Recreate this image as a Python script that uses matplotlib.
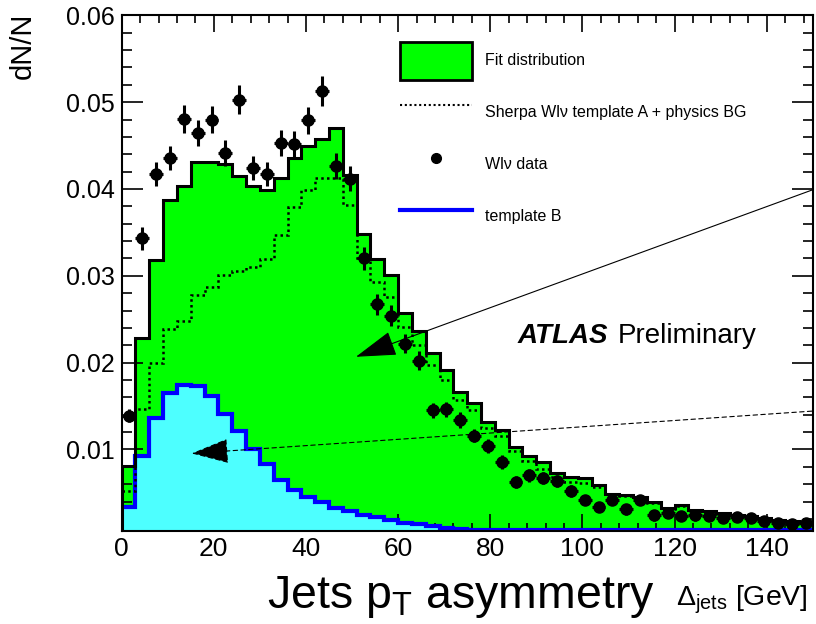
import numpy as np
import matplotlib
matplotlib.use("Agg")
import matplotlib.pyplot as plt
from matplotlib.lines import Line2D
from matplotlib.patches import Patch
from matplotlib.ticker import MultipleLocator, FormatStrFormatter

plt.rcParams['font.family'] = ['Liberation Sans', 'DejaVu Sans']
plt.rcParams['mathtext.fontset'] = 'custom'
plt.rcParams['mathtext.rm'] = 'Liberation Sans'
plt.rcParams['mathtext.it'] = 'Liberation Sans:italic'

# 50 bins of 3 GeV, 0..150
bin_edges = np.arange(0, 151, 3)
bin_centers = bin_edges[:-1] + 1.5

fit_dist = [0.0081, 0.0228, 0.0318, 0.0387, 0.0404, 0.0431, 0.0431, 0.0429, 0.0415, 0.0403,
            0.0399, 0.0413, 0.0436, 0.0449, 0.0458, 0.0470, 0.0416, 0.0348, 0.0319, 0.0301,
            0.0257, 0.0236, 0.0211, 0.0191, 0.0166, 0.0154, 0.0132, 0.0122, 0.0103, 0.0092,
            0.0085, 0.0073, 0.0068, 0.0067, 0.0059, 0.0049, 0.0047, 0.0045, 0.0039, 0.0032,
            0.0036, 0.0030, 0.0029, 0.0027, 0.0025, 0.0023, 0.0021, 0.0019, 0.0018, 0.0016]

template_a = [0.0052, 0.0146, 0.0199, 0.0239, 0.0248, 0.0278, 0.0287, 0.0301, 0.0305, 0.0310,
              0.0319, 0.0347, 0.0379, 0.0399, 0.0413, 0.0413, 0.0382, 0.0318, 0.0293, 0.0276,
              0.0241, 0.0220, 0.0197, 0.0180, 0.0157, 0.0145, 0.0125, 0.0115, 0.0098, 0.0087,
              0.0078, 0.0068, 0.0063, 0.0061, 0.0057, 0.0048, 0.0046, 0.0044, 0.0038, 0.0031,
              0.0035, 0.0029, 0.0028, 0.0026, 0.0024, 0.0022, 0.0020, 0.0018, 0.0017, 0.0015]

template_b = [0.0034, 0.0092, 0.0136, 0.0165, 0.0174, 0.0173, 0.0161, 0.0141, 0.0121, 0.0100,
              0.0083, 0.0065, 0.0053, 0.0045, 0.0039, 0.0033, 0.0029, 0.0025, 0.0022, 0.0019,
              0.0015, 0.0014, 0.0012, 0.0010, 0.0008, 0.0007, 0.0007, 0.0007, 0.0007, 0.0007,
              0.0007, 0.0007, 0.0007, 0.0007, 0.0007, 0.0007, 0.0007, 0.0007, 0.0007, 0.0007,
              0.0007, 0.0007, 0.0007, 0.0007, 0.0007, 0.0007, 0.0007, 0.0007, 0.0007, 0.0007]

wlv_data = [0.0139, 0.0343, 0.0417, 0.0436, 0.0481, 0.0465, 0.0480, 0.0441, 0.0503, 0.0424,
            0.0417, 0.0453, 0.0452, 0.0479, 0.0513, 0.0426, 0.0412, 0.0320, 0.0267, 0.0254,
            0.0222, 0.0202, 0.0145, 0.0146, 0.0134, 0.0116, 0.0104, 0.0085, 0.0062, 0.0070,
            0.0067, 0.0064, 0.0052, 0.0042, 0.0034, 0.0042, 0.0031, 0.0042, 0.0024, 0.0027,
            0.0023, 0.0024, 0.0023, 0.0021, 0.0022, 0.0021, 0.0017, 0.0015, 0.0014, 0.0015]

wlv_err = [0.0007, 0.0013, 0.0014, 0.0014, 0.0016, 0.0015, 0.0016, 0.0015, 0.0017, 0.0014,
           0.0014, 0.0015, 0.0015, 0.0016, 0.0017, 0.0015, 0.0014, 0.0013, 0.0012, 0.0012,
           0.0011, 0.0011, 0.0009, 0.0009, 0.0009, 0.0008, 0.0008, 0.0008, 0.0007, 0.0007,
           0.0007, 0.0007, 0.0007, 0.0006, 0.0006, 0.0006, 0.0006, 0.0006, 0.0006, 0.0006,
           0.0006, 0.0006, 0.0006, 0.0006, 0.0006, 0.0006, 0.0006, 0.0006, 0.0006, 0.0006]

GREEN = '#00ff00'
CYAN = '#4dffff'
BLUE = '#0000ff'

fig = plt.figure(figsize=(8.16, 6.24), dpi=100)
ax = fig.add_axes([0.1491, 0.1490, 0.8469, 0.8264])

ax.stairs(fit_dist, bin_edges, fill=True, color=GREEN, zorder=1)
ax.stairs(template_b, bin_edges, fill=True, color=CYAN, zorder=2)
ax.stairs(template_b, bin_edges, color=BLUE, lw=3, zorder=3, baseline=None)
ax.stairs(template_a, bin_edges, color='black', lw=1.8, ls=(0, (1, 1.3)), zorder=3, baseline=None)
ax.stairs(fit_dist, bin_edges, color='black', lw=2.2, zorder=4)
ax.errorbar(bin_centers, wlv_data, yerr=wlv_err, xerr=1.5, fmt='o', color='black',
            ms=8, elinewidth=2.2, capsize=0, zorder=5)

# arrows from the right edge
ax.annotate('', xy=(50.85, 0.02067), xytext=(149.8, 0.03987),
            arrowprops=dict(arrowstyle='-|>,head_length=2.6,head_width=0.8', color='black',
                            lw=0.8, mutation_scale=10, shrinkA=0, shrinkB=0),
            annotation_clip=False, zorder=6)
ax.annotate('', xy=(15.19, 0.00954), xytext=(149.8, 0.01441),
            arrowprops=dict(arrowstyle='-|>,head_length=2.4,head_width=0.8', color='black',
                            lw=0.8, ls=(0, (4, 3)), mutation_scale=10, shrinkA=0, shrinkB=0),
            annotation_clip=False, zorder=6)

ax.set_xlim(0, 150)
ax.set_ylim(0.0006, 0.06)
ax.xaxis.set_major_locator(MultipleLocator(20))
ax.xaxis.set_minor_locator(MultipleLocator(4))
ax.yaxis.set_major_locator(MultipleLocator(0.01))
ax.yaxis.set_minor_locator(MultipleLocator(0.002))
ax.yaxis.set_major_formatter(FormatStrFormatter('%.2f'))
ax.tick_params(which='both', direction='in', top=True, right=True, width=1.2)
ax.tick_params(axis='y', which='major', length=15, labelsize=18, pad=5)
ax.tick_params(axis='y', which='minor', length=7.5)
ax.tick_params(axis='x', which='major', length=12, labelsize=19, pad=4)
ax.tick_params(axis='x', which='minor', length=6)
for s in ax.spines.values():
    s.set_linewidth(1.5)
    s.set_zorder(7)

fig.text(0.028, 0.979, 'dN/N', rotation=90, ha='center', va='top', fontsize=21)

# legend
handles = [Patch(facecolor=GREEN, edgecolor='black', lw=2),
           Line2D([], [], color='black', lw=1.5, ls=(0, (1, 1.3))),
           Line2D([], [], color='black', marker='o', ls='none', ms=7),
           Line2D([], [], color=BLUE, lw=3)]
labels = ['Fit distribution', 'Sherpa Wl\u03bd template A + physics BG', 'Wl\u03bd data', 'template B']
ax.legend(handles, labels, loc='upper left', bbox_to_anchor=(400 / 816, 1 - 41.7 / 624),
          bbox_transform=fig.transFigure, frameon=False, fontsize=11.5,
          handlelength=4.5, handleheight=3.28, labelspacing=0.88, handletextpad=0.85,
          borderpad=0, borderaxespad=0)

ax.text(518 / 816, 1 - 343 / 624, 'ATLAS', transform=fig.transFigure, fontsize=20,
        fontweight='bold', fontstyle='italic', ha='left', va='baseline')
ax.text(618 / 816, 1 - 343 / 624, 'Preliminary', transform=fig.transFigure, fontsize=20,
        ha='left', va='baseline')

fig.text(267 / 816, 1 - 608 / 624, r'Jets p$_{\rm T}$ asymmetry', fontsize=33.5,
         ha='left', va='baseline')
fig.text(676 / 816, 1 - 606 / 624, r'$\Delta_{\rm jets}$ [GeV]', fontsize=20.5,
         ha='left', va='baseline')

fig.savefig('out.png', dpi=100)
